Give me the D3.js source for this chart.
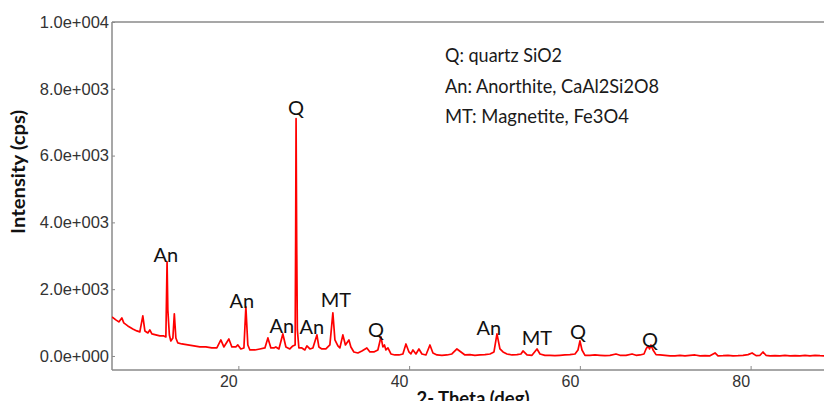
<!DOCTYPE html>
<html>
<head>
<meta charset="utf-8">
<script src="https://cdn.jsdelivr.net/npm/d3@7"></script>
<style>
  html, body { margin: 0; padding: 0; background: #fff; }
  svg { display: block; }
</style>
</head>
<body>
<svg id="chart" width="824" height="401"></svg>
<script>
// XRD pattern: 2-theta (deg) and intensity (cps)
const twoTheta = [
  5.20, 5.65, 6.00, 6.35, 6.58, 7.05, 7.64, 8.11, 8.46, 8.81, 9.05, 9.40, 9.63, 9.87,
  10.33, 10.80, 11.27, 11.51, 11.58, 11.65, 11.74, 11.92, 12.09, 12.33, 12.50, 12.68, 12.91,
  13.38, 14.08, 14.79, 15.49, 16.19, 16.89, 17.48, 17.95, 18.30, 18.89, 19.24, 19.71, 19.94,
  20.29, 20.65, 20.88, 21.11, 21.35, 21.93, 22.52, 23.11, 23.46, 23.81, 24.16, 24.39, 24.75,
  25.21, 25.57, 26.03, 26.38, 26.65, 26.71, 26.76, 26.83, 26.91, 27.09, 27.44, 27.79, 28.03,
  28.38, 28.73, 29.20, 29.43, 29.78, 30.25, 30.72, 31.07, 31.31, 31.66, 31.89, 32.24, 32.54,
  32.95, 33.18, 33.53, 34.00, 34.47, 35.05, 35.41, 35.87, 36.34, 36.70, 36.93, 37.11, 37.28,
  37.52, 37.87, 38.33, 38.80, 39.27, 39.63, 39.98, 40.21, 40.45, 40.80, 41.15, 41.50, 41.97,
  42.44, 42.79, 43.26, 43.84, 44.43, 45.01, 45.60, 46.07, 46.54, 47.12, 47.71, 48.30, 48.88,
  49.47, 49.94, 50.29, 50.64, 51.00, 51.46, 52.05, 52.63, 53.10, 53.34, 53.81, 54.39, 54.98,
  55.33, 55.91, 56.50, 57.08, 57.67, 58.25, 58.84, 59.43, 59.78, 60.01, 60.25, 60.60, 61.18,
  61.77, 62.36, 62.94, 63.53, 64.23, 64.70, 65.40, 66.11, 66.58, 67.04, 67.51, 67.75, 67.98,
  68.16, 68.33, 68.57, 68.92, 69.39, 69.97, 70.56, 71.14, 71.73, 72.31, 72.90, 73.49, 74.07,
  74.66, 75.24, 75.83, 76.18, 76.77, 77.35, 77.94, 78.52, 79.11, 79.70, 80.17, 80.64, 81.10,
  81.45, 81.80, 82.27, 82.85, 83.44, 84.02, 84.61, 85.20, 85.78, 86.37, 86.95, 87.54, 88.13,
  88.60, 89.20, 89.80
];
const intensity = [
  1170, 1080, 1020, 1140, 990, 900, 810, 750, 720, 1200, 750, 690, 780, 660,
  630, 600, 600, 570, 1680, 2820, 1380, 630, 450, 540, 1260, 540, 390,
  360, 330, 300, 270, 270, 240, 240, 480, 270, 510, 270, 270, 330,
  210, 240, 1470, 330, 180, 180, 210, 240, 540, 240, 240, 270, 210,
  660, 270, 210, 300, 330, 3480, 7110, 3480, 780, 240, 240, 180, 300,
  210, 240, 630, 270, 210, 210, 330, 1290, 480, 300, 240, 630, 330,
  480, 270, 120, 90, 150, 240, 120, 120, 180, 570, 270, 330, 180,
  240, 60, 30, 30, 60, 360, 120, 60, 180, 60, 210, 60, 30,
  330, 90, 30, 20, 30, 60, 210, 120, 30, 40, 20, 30, 40,
  60, 120, 660, 210, 120, 60, 30, 40, 60, 150, 30, 20, 210,
  60, 20, 20, 10, 20, 30, 40, 60, 180, 450, 180, 20, 20,
  30, 20, 10, 20, 60, 20, 20, 60, 20, 30, 60, 210, 300,
  210, 330, 180, 40, 30, 20, 5, 5, 20, 5, 20, 30, 5,
  10, 5, 90, 5, 10, 20, 5, 10, 20, 40, 90, 10, 20,
  120, 20, 5, 10, 5, 20, 5, 10, 5, 20, 5, 20, 10,
  5, 20, 10
];

// Phase labels: text, 2-theta and intensity of the label baseline
const peakText  = ["An", "An", "An", "Q", "An", "MT", "Q", "An", "MT", "Q", "Q"];
const peakTheta = [11.5, 20.42, 25.1, 26.74, 28.61, 31.42, 36.11, 49.35, 54.97, 59.78, 68.21];
const peakLevel = [2800, 1440, 690, 7230, 660, 1470, 570, 630, 330, 510, 270];

const legendLines = ["Q: quartz SiO2", "An: Anorthite, CaAl2Si2O8", "MT: Magnetite, Fe3O4"];
const legendWidths = [117, 214, 184];

const xTicks = [20, 40, 60, 80];
const yTicks = [0, 2000, 4000, 6000, 8000, 10000];

const svg = d3.select("#chart");
const plotLeft = 112, plotTop = 22, plotBottom = 370, plotRight = 836;

const x = d3.scaleLinear().domain([5.2, 90]).range([plotLeft, plotRight]);
const y = d3.scaleLinear().domain([-420, 10000]).range([plotBottom, plotTop]);

// exponent written with three digits, e.g. 2.0e+003
const sci = v => {
  const [m, e] = d3.format(".1e")(v).split("e");
  const sign = e[0];
  const digits = e.slice(1).padStart(3, "0");
  return m + "e" + sign + digits;
};

svg.append("defs").append("clipPath").attr("id", "plotClip")
  .append("rect").attr("x", plotLeft).attr("y", plotTop)
  .attr("width", plotRight - plotLeft).attr("height", plotBottom - plotTop);

// y axis
const yAxis = svg.append("g").attr("transform", `translate(${plotLeft},0)`)
  .call(d3.axisLeft(y).tickValues(yTicks).tickFormat(sci).tickSize(-3).tickPadding(3));
yAxis.select(".domain").remove();
yAxis.selectAll(".tick line").attr("stroke", "#8a8a8a");
yAxis.selectAll(".tick text")
  .attr("font-family", "'Liberation Sans', Arial, sans-serif")
  .attr("font-size", 16.5).attr("fill", "#333");

// x axis
const xAxis = svg.append("g").attr("transform", `translate(0,${plotBottom})`)
  .call(d3.axisBottom(x).tickValues(xTicks).tickFormat(d3.format("d")).tickSize(-4).tickPadding(6));
xAxis.select(".domain").remove();
xAxis.selectAll(".tick line").attr("stroke", "#8a8a8a");
xAxis.selectAll(".tick text")
  .attr("dx", -10)
  .attr("font-family", "'Liberation Sans', Arial, sans-serif")
  .attr("font-size", 16).attr("fill", "#333");

// frame: left, top and bottom edges
const frame = svg.append("g").attr("stroke", "#8a8a8a").attr("stroke-width", 1.5).attr("fill", "none");
frame.append("line").attr("x1", plotLeft).attr("x2", plotLeft).attr("y1", plotTop).attr("y2", plotBottom);
frame.append("line").attr("x1", plotLeft).attr("x2", 824).attr("y1", plotTop).attr("y2", plotTop);
frame.append("line").attr("x1", plotLeft).attr("x2", 824).attr("y1", plotBottom).attr("y2", plotBottom);

// diffraction trace
const line = d3.line().x((d, i) => x(twoTheta[i])).y((d, i) => y(intensity[i]));
svg.append("path")
  .attr("clip-path", "url(#plotClip)")
  .attr("d", line(intensity))
  .attr("fill", "none")
  .attr("stroke", "#ff0000")
  .attr("stroke-width", 1.7)
  .attr("stroke-linejoin", "round");

// phase labels over the peaks
svg.append("g").selectAll("text").data(peakText).join("text")
  .attr("x", (d, i) => x(peakTheta[i]))
  .attr("y", (d, i) => y(peakLevel[i]))
  .attr("text-anchor", "middle")
  .attr("font-family", "Lato, 'Open Sans', sans-serif")
  .attr("font-size", 20)
  .attr("fill", "#111")
  .text(d => d);

// legend
svg.append("g").selectAll("text").data(legendLines).join("text")
  .attr("x", 445)
  .attr("y", (d, i) => 62 + i * 30.5)
  .attr("font-family", "Lato, 'Open Sans', sans-serif")
  .attr("font-size", 20)
  .attr("textLength", (d, i) => legendWidths[i])
  .attr("lengthAdjust", "spacingAndGlyphs")
  .attr("fill", "#1a1a1a")
  .text(d => d);

// axis titles
svg.append("text")
  .attr("transform", "translate(25,172) rotate(-90)")
  .attr("text-anchor", "middle")
  .attr("font-family", "Lato, 'Open Sans', sans-serif")
  .attr("font-weight", "bold")
  .attr("font-size", 18)
  .attr("textLength", 124)
  .attr("lengthAdjust", "spacingAndGlyphs")
  .attr("fill", "#111")
  .text("Intensity (cps)");

svg.append("text")
  .attr("x", 473).attr("y", 405)
  .attr("text-anchor", "middle")
  .attr("font-family", "Lato, 'Open Sans', sans-serif")
  .attr("font-weight", "bold")
  .attr("font-size", 18)
  .attr("textLength", 113)
  .attr("lengthAdjust", "spacingAndGlyphs")
  .attr("fill", "#111")
  .text("2- Theta (deg)");
</script>
</body>
</html>
